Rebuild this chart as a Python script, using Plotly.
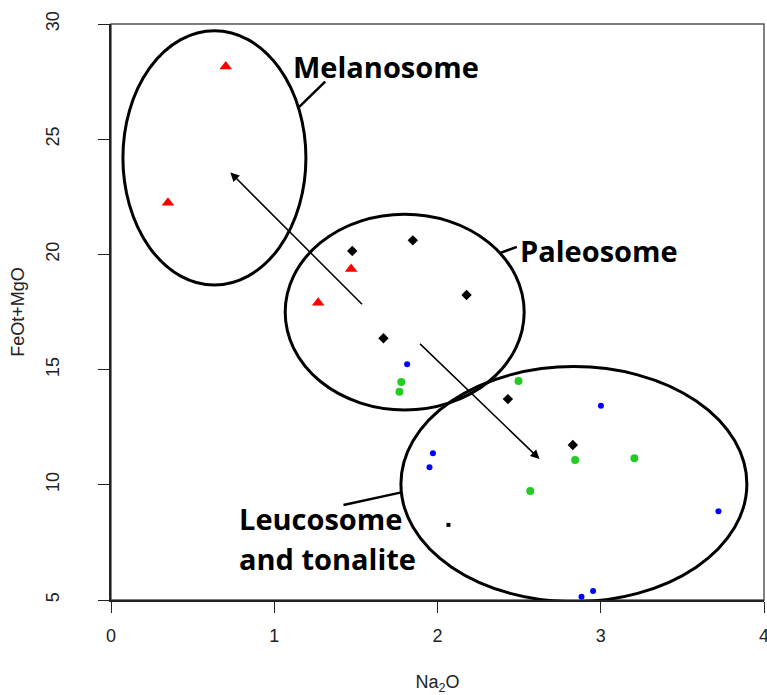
import plotly.graph_objects as go

# Sample compositions: Na2O (wt%) vs FeOt+MgO (wt%)
mel_na2o = [0.703, 0.349, 1.471, 1.269]
mel_femg = [28.15, 22.24, 19.37, 17.90]

pal_na2o = [1.478, 1.849, 2.178, 1.669, 2.431, 2.829]
pal_femg = [20.15, 20.61, 18.24, 16.36, 13.72, 11.73]

pal_small_na2o = [2.067]
pal_small_femg = [8.26]

ton_na2o = [1.814, 3.001, 1.972, 1.951, 3.721, 2.953, 2.882]
ton_femg = [15.23, 13.43, 11.37, 10.76, 8.85, 5.39, 5.14]

leu_na2o = [1.778, 1.767, 2.496, 2.843, 3.206, 2.568]
leu_femg = [14.46, 14.04, 14.50, 11.08, 11.15, 9.73]

x_ticks = [0, 1, 2, 3, 4]
y_ticks = [5, 10, 15, 20, 25, 30]

# Field outlines: (x0, x1, y0, y1)
fields = {
    "Melanosome": (0.073, 1.194, 18.67, 29.71),
    "Paleosome": (1.067, 2.531, 13.25, 21.74),
    "Leucosome": (1.776, 3.895, 4.93, 15.13),
}

# Leader lines from labels to fields: (x0, y0, x1, y1)
leaders = [
    (1.153, 26.40, 1.312, 27.50),
    (2.384, 20.06, 2.486, 20.33),
    (1.424, 9.12, 1.772, 9.66),
]

# Trend arrows: (tail_x, tail_y, head_x, head_y)
arrows = [
    (1.547, 17.77, 0.731, 23.56),
    (1.884, 16.18, 2.625, 11.12),
]

# Field labels: (text, x, y)
labels = [
    ("Melanosome", 1.100, 28.17),
    ("Paleosome", 2.494, 20.19),
    ("Leucosome", 0.772, 8.55),
    ("and tonalite", 0.772, 6.80),
]

tick_font = dict(family="Liberation Sans Narrow, Liberation Sans", size=18, color="#222222")

fig = go.Figure()
fig.add_trace(go.Scatter(x=mel_na2o, y=mel_femg, mode="markers",
                         marker=dict(symbol="triangle-up", size=11, color="#ff0000")))
fig.add_trace(go.Scatter(x=pal_na2o, y=pal_femg, mode="markers",
                         marker=dict(symbol="diamond", size=8, color="#000000")))
fig.add_trace(go.Scatter(x=pal_small_na2o, y=pal_small_femg, mode="markers",
                         marker=dict(symbol="square", size=4, color="#000000")))
fig.add_trace(go.Scatter(x=ton_na2o, y=ton_femg, mode="markers",
                         marker=dict(symbol="circle", size=6, color="#0000ff")))
fig.add_trace(go.Scatter(x=leu_na2o, y=leu_femg, mode="markers",
                         marker=dict(symbol="circle", size=8, color="#22cc22")))

shapes = []
for name, (x0, x1, y0, y1) in fields.items():
    shapes.append(dict(type="circle", xref="x", yref="y", x0=x0, x1=x1, y0=y0, y1=y1,
                       line=dict(color="black", width=3)))
for (x0, y0, x1, y1) in leaders:
    shapes.append(dict(type="line", xref="x", yref="y", x0=x0, y0=y0, x1=x1, y1=y1,
                       line=dict(color="black", width=2.5)))
# plot frame
shapes.append(dict(type="rect", xref="paper", yref="paper", x0=0, x1=1, y0=0, y1=1,
                   line=dict(color="#555555", width=1.5), layer="below"))

annotations = []
for (tx, ty, hx, hy) in arrows:
    annotations.append(dict(x=hx, y=hy, ax=tx, ay=ty, xref="x", yref="y",
                            axref="x", ayref="y", showarrow=True, arrowhead=2,
                            arrowsize=1.2, arrowwidth=1.5, arrowcolor="black", text=""))
for (txt, lx, ly) in labels:
    annotations.append(dict(x=lx, y=ly, xref="x", yref="y", text=txt, showarrow=False,
                            xanchor="left", yanchor="middle",
                            font=dict(family="Open Sans", size=29, color="black", weight="bold")))

fig.update_layout(
    width=767, height=695,
    margin=dict(l=111, r=3, t=24, b=95, autoexpand=False),
    paper_bgcolor="white", plot_bgcolor="white",
    showlegend=False,
    shapes=shapes,
    annotations=annotations,
    font=tick_font,
)
fig.update_xaxes(range=[0, 4], tickvals=x_ticks, ticks="outside", ticklen=11,
                 tickcolor="#222222", showgrid=False, zeroline=False,
                 showline=True, linecolor="#222222", linewidth=1.5,
                 ticklabelstandoff=8, ticklabeloverflow="allow", automargin=False,
                 tickfont=tick_font,
                 title=dict(text="Na<sub>2</sub>O", standoff=31, font=tick_font))
fig.update_yaxes(range=[5, 30], tickvals=y_ticks, ticks="outside", ticklen=11,
                 tickcolor="#222222", showgrid=False, zeroline=False,
                 showline=True, linecolor="#222222", linewidth=1.5,
                 tickangle=-90, ticklabelstandoff=32, automargin=False,
                 tickfont=tick_font,
                 title=dict(text="FeOt+MgO", standoff=14, font=tick_font))

fig.write_html("out.html")
